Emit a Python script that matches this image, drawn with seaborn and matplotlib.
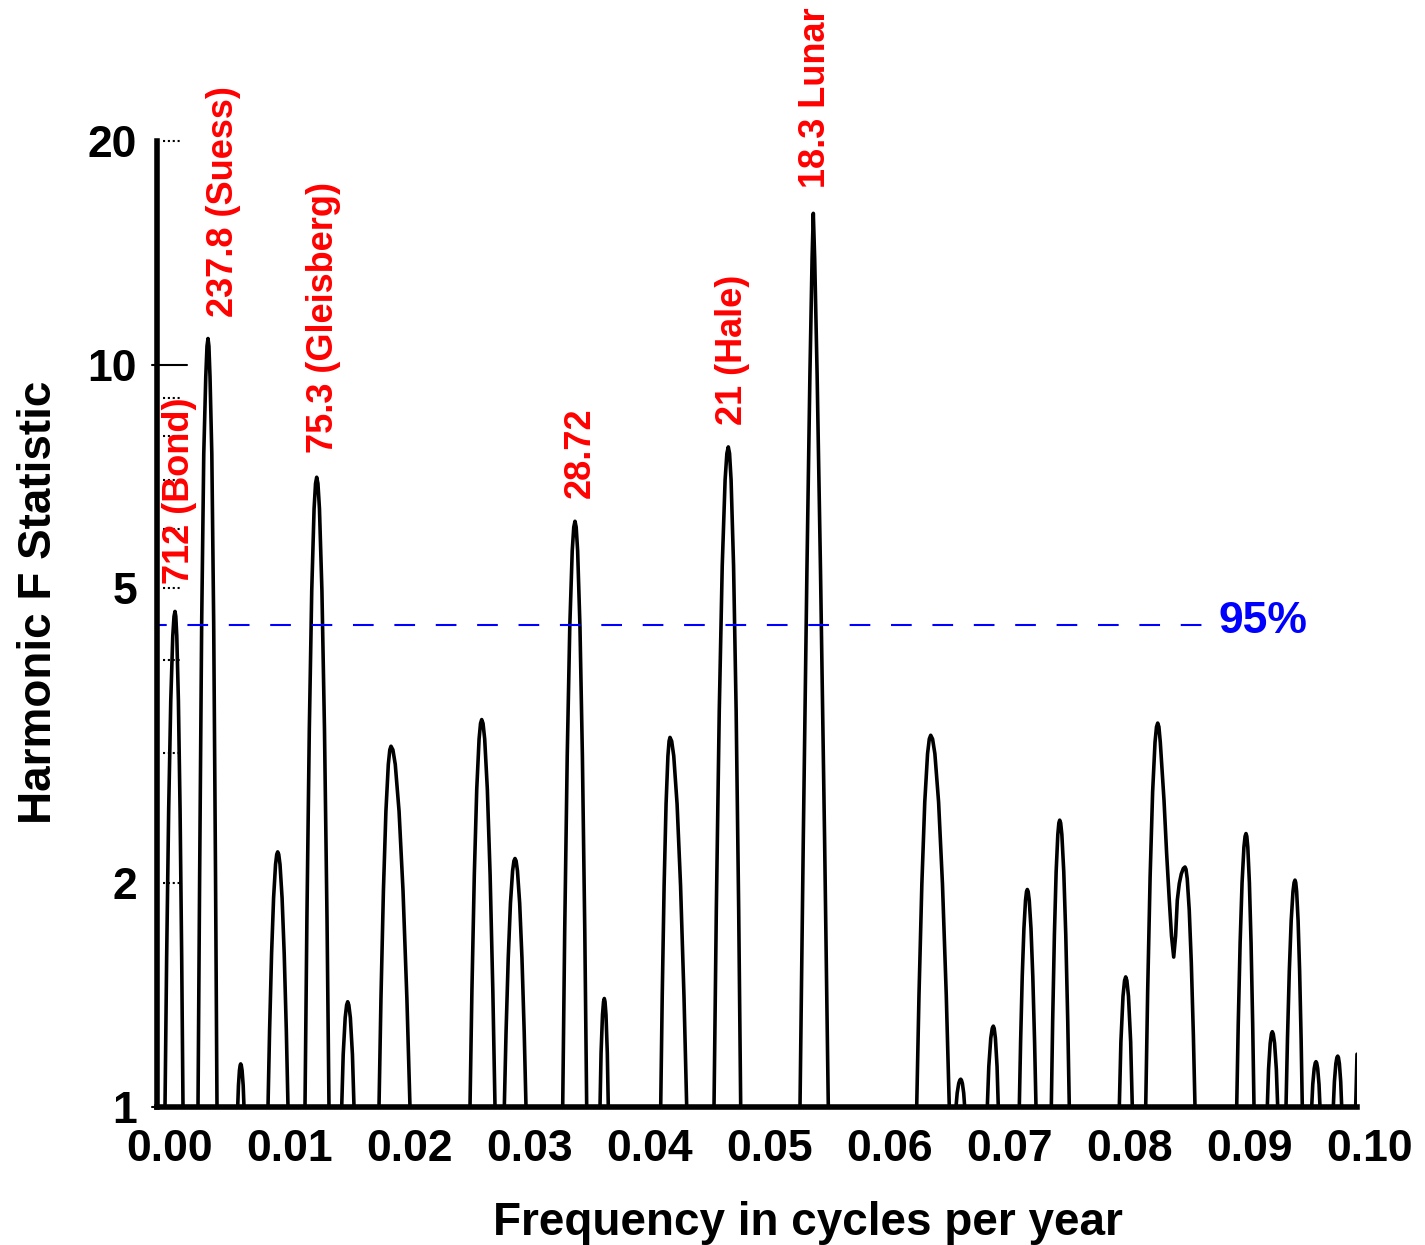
import numpy as np
import pandas as pd
import matplotlib
matplotlib.use('Agg')
import matplotlib.pyplot as plt
import matplotlib.ticker as mticker
from matplotlib.transforms import ScaledTranslation
import seaborn as sns

# traced harmonic F spectrum (one peak per line)
freq = [
    0.0,
    0.000667, 0.000803, 0.000973, 0.001147, 0.001313, 0.001417, 0.0015, 0.001567, 0.001649, 0.001783, 0.001922, 0.002058, 0.002167,
    0.003417, 0.003553, 0.003723, 0.003897, 0.004063, 0.004167, 0.00425, 0.004325, 0.004418, 0.004568, 0.004724, 0.004878, 0.005,
    0.006725, 0.006788, 0.00687, 0.00693, 0.006975, 0.007024, 0.007091, 0.007182, 0.00725,
    0.00925, 0.009382, 0.009548, 0.009716, 0.009878, 0.009978, 0.010058, 0.010144, 0.010251, 0.010423, 0.010601, 0.010777, 0.010917,
    0.012333, 0.012493, 0.012693, 0.012895, 0.01309, 0.013211, 0.013308, 0.013411, 0.013538, 0.013743, 0.013956, 0.014167, 0.014333,
    0.015392, 0.015517, 0.015682, 0.015802, 0.015892, 0.015986, 0.016113, 0.016286, 0.016417,
    0.0185, 0.018663, 0.018868, 0.019076, 0.019276, 0.0194, 0.0195, 0.019658, 0.019855, 0.020172, 0.020501, 0.020825, 0.021083,
    0.026083, 0.026243, 0.026443, 0.026645, 0.02684, 0.026961, 0.027058, 0.027169, 0.027307, 0.027528, 0.027759, 0.027986, 0.028167,
    0.028942, 0.029087, 0.02927, 0.029455, 0.029633, 0.029744, 0.029833, 0.029925, 0.030038, 0.030222, 0.030413, 0.030601, 0.03075,
    0.033808, 0.033975, 0.034186, 0.034398, 0.034603, 0.034731, 0.034833, 0.034931, 0.035052, 0.035247, 0.035449, 0.035649, 0.035808,
    0.036917, 0.037006, 0.037124, 0.037211, 0.037275, 0.037335, 0.037415, 0.037525, 0.037608,
    0.041975, 0.042102, 0.04226, 0.042422, 0.042577, 0.042673, 0.04275, 0.042889, 0.043062, 0.04334, 0.043629, 0.043915, 0.044142,
    0.046417, 0.046611, 0.046855, 0.047103, 0.047342, 0.047489, 0.047608, 0.047712, 0.04784, 0.048047, 0.048262, 0.048473, 0.048642,
    0.053583, 0.053858, 0.05416, 0.05441, 0.054591, 0.054692, 0.054806, 0.055009, 0.055292, 0.055632, 0.055942,
    0.063308, 0.063498, 0.063738, 0.06398, 0.064213, 0.064358, 0.064475, 0.06463, 0.064823, 0.065133, 0.065455, 0.065773, 0.066025,
    0.066583, 0.066681, 0.066811, 0.066904, 0.066975, 0.067035, 0.067115, 0.067225, 0.067308,
    0.069192, 0.069317, 0.069482, 0.069602, 0.069692, 0.069767, 0.069867, 0.070004, 0.070108,
    0.071858, 0.071967, 0.072103, 0.072243, 0.072376, 0.072458, 0.072525, 0.072598, 0.072688, 0.072833, 0.072983, 0.073132, 0.07325,
    0.074525, 0.074639, 0.074783, 0.074928, 0.075068, 0.075155, 0.075225, 0.075305, 0.075404, 0.075564, 0.075731, 0.075895, 0.076025,
    0.080192, 0.080325, 0.080501, 0.080629, 0.080725, 0.080824, 0.080956, 0.081138, 0.081275,
    0.082392, 0.082555, 0.08276, 0.082968, 0.083168, 0.083292, 0.083392, 0.083492, 0.083608, 0.083917, 0.084133, 0.084358,
    0.084542, 0.084725, 0.084883, 0.085025, 0.085192, 0.085358, 0.085525, 0.085667, 0.08575, 0.085853, 0.08602, 0.086193,
    0.086364, 0.0865,
    0.089975, 0.090102, 0.09026, 0.090422, 0.090577, 0.090673, 0.09075, 0.090817, 0.090899, 0.091033, 0.091172, 0.091308, 0.091417,
    0.092525, 0.092629, 0.092767, 0.092867, 0.092942, 0.093023, 0.093131, 0.093279, 0.093392,
    0.094083, 0.094206, 0.094359, 0.094515, 0.094665, 0.094758, 0.094833, 0.094894, 0.09497, 0.095092, 0.095218, 0.095343, 0.095442,
    0.096225, 0.096314, 0.096433, 0.096519, 0.096583, 0.096643, 0.096723, 0.096833, 0.096917,
    0.098025, 0.098117, 0.098238, 0.098326, 0.098392, 0.098452, 0.098532, 0.098642, 0.098725,
    0.09989, 0.1,
]
fstat = [
    1.0,
    1.0, 1.586, 2.515, 3.527, 4.306, 4.579, 4.65, 4.579, 4.306, 3.527, 2.515, 1.586, 1.0,
    1.0, 2.045, 4.487, 7.58, 9.62, 10.59, 10.84, 10.59, 9.62, 7.58, 4.487, 2.045, 1.0,
    1.0, 1.069, 1.12, 1.138, 1.143, 1.138, 1.12, 1.069, 1.0,
    1.0, 1.268, 1.608, 1.913, 2.121, 2.189, 2.206, 2.189, 2.121, 1.913, 1.608, 1.268, 1.0,
    1.0, 1.797, 3.228, 4.961, 6.395, 6.914, 7.05, 6.914, 6.395, 4.961, 3.228, 1.797, 1.0,
    1.0, 1.177, 1.319, 1.372, 1.386, 1.372, 1.319, 1.177, 1.0,
    1.0, 1.399, 1.956, 2.502, 2.894, 3.027, 3.061, 3.027, 2.894, 2.502, 1.956, 1.399, 1.0,
    1.0, 1.434, 2.056, 2.679, 3.131, 3.286, 3.325, 3.286, 3.131, 2.679, 2.056, 1.434, 1.0,
    1.0, 1.26, 1.588, 1.882, 2.08, 2.145, 2.161, 2.145, 2.08, 1.882, 1.588, 1.26, 1.0,
    1.0, 1.724, 2.973, 4.434, 5.616, 6.04, 6.15, 6.04, 5.616, 4.434, 2.973, 1.724, 1.0,
    1.0, 1.183, 1.331, 1.386, 1.40, 1.386, 1.331, 1.183, 1.0,
    1.0, 1.41, 1.989, 2.559, 2.971, 3.11, 3.146, 3.11, 2.971, 2.559, 1.989, 1.41, 1.0,
    1.0, 1.848, 3.416, 5.359, 6.993, 7.59, 7.745, 7.59, 6.993, 5.359, 3.416, 1.848, 1.0,
    1.0, 2.297, 5.275, 9.705, 13.91, 15.98, 13.91, 9.705, 5.275, 2.297, 1.0,
    1.0, 1.413, 1.997, 2.574, 2.991, 3.131, 3.167, 3.131, 2.991, 2.574, 1.997, 1.413, 1.0,
    1.0, 1.044, 1.076, 1.087, 1.09, 1.087, 1.076, 1.044, 1.0,
    1.0, 1.134, 1.238, 1.276, 1.285, 1.276, 1.238, 1.134, 1.0,
    1.0, 1.224, 1.499, 1.739, 1.898, 1.95, 1.963, 1.95, 1.898, 1.739, 1.499, 1.224, 1.0,
    1.0, 1.306, 1.705, 2.074, 2.328, 2.413, 2.434, 2.413, 2.328, 2.074, 1.705, 1.306, 1.0,
    1.0, 1.224, 1.41, 1.48, 1.497, 1.48, 1.41, 1.224, 1.0,
    1.0, 1.43, 2.043, 2.655, 3.099, 3.251, 3.289, 3.251, 3.099, 2.589, 2.2, 1.899,
    1.7, 1.592, 1.7, 1.899, 2.0, 2.06, 2.095, 2.105, 2.09, 2.029, 1.842, 1.563,
    1.25, 1.0,
    1.0, 1.29, 1.663, 2.005, 2.239, 2.315, 2.335, 2.315, 2.239, 2.005, 1.663, 1.29, 1.0,
    1.0, 1.124, 1.219, 1.254, 1.263, 1.254, 1.219, 1.124, 1.0,
    1.0, 1.235, 1.525, 1.781, 1.951, 2.006, 2.021, 2.006, 1.951, 1.781, 1.525, 1.235, 1.0,
    1.0, 1.073, 1.127, 1.146, 1.151, 1.146, 1.127, 1.073, 1.0,
    1.0, 1.082, 1.144, 1.166, 1.171, 1.166, 1.144, 1.082, 1.0,
    1.0, 1.178,
]

# period annotations (years)
peak_labels = ['712 (Bond)', '237.8 (Suess)', '75.3 (Gleisberg)', '28.72', '21 (Hale)', '18.3 Lunar']
label_freq = [0.002667, 0.006333, 0.014667, 0.036083, 0.04875, 0.055667]
label_f = [5.06, 11.6, 7.59, 6.62, 8.30, 17.3]

threshold_95 = 4.455
threshold_end = 0.0871
threshold_text = '95%'
threshold_text_pos = (0.08842, 4.345)

x_ticks = [0.00, 0.01, 0.02, 0.03, 0.04, 0.05, 0.06, 0.07, 0.08, 0.09, 0.10]
x_tick_labels = ['0.00', '0.01', '0.02', '0.03', '0.04', '0.05', '0.06', '0.07', '0.08', '0.09', '0.10']
y_ticks = [1, 2, 5, 10, 20]
y_tick_labels = ['1', '2', '5', '10', '20']
y_dotted = [2, 3, 4, 5, 6, 7, 8, 9, 20]
y_solid = [1, 10]

sns.set_theme(style='white')
plt.rcParams['font.family'] = ['Liberation Sans', 'DejaVu Sans']
plt.rcParams['font.weight'] = 'bold'
plt.rcParams['text.color'] = 'black'
plt.rcParams['lines.scale_dashes'] = False

W, H = 1425, 1245
fig = plt.figure(figsize=(W / 100, H / 100), dpi=100)
ax = fig.add_axes([157 / W, 138 / H, 1200 / W, 966 / H])

df = pd.DataFrame({'freq': freq, 'fstat': fstat})
sns.lineplot(data=df, x='freq', y='fstat', sort=False, estimator=None,
             color='black', lw=2.6, ax=ax)
ax.set_yscale('log')

# 95% significance level
ax.plot([0, threshold_end], [threshold_95, threshold_95], color='blue', lw=1.5,
        linestyle=(7.9, (14.9, 14.9)))
ax.text(threshold_text_pos[0], threshold_text_pos[1], threshold_text, color='blue',
        fontsize=32, fontweight='bold', ha='left', va='baseline')

for lab, fx, fy in zip(peak_labels, label_freq, label_f):
    ax.text(fx, fy, lab, color='red', fontsize=26, fontweight='bold', rotation=90,
            rotation_mode='anchor', ha='left', va='baseline', clip_on=False)

# axis decorations
ax.set_xticks(x_ticks)
ax.set_xticklabels(x_tick_labels)
ax.set_yticks(y_ticks)
ax.set_yticklabels(y_tick_labels)
ax.xaxis.set_minor_locator(mticker.NullLocator())
ax.yaxis.set_minor_locator(mticker.NullLocator())
ax.tick_params(axis='x', direction='in', length=11, width=1.5, pad=16,
               labelsize=32, colors='black')
ax.tick_params(axis='y', length=0, pad=14.4, labelsize=32, colors='black')
for lbl in ax.get_xticklabels():
    lbl.set_transform(lbl.get_transform() + ScaledTranslation(0.13, 0, fig.dpi_scale_trans))

ytr = ax.get_yaxis_transform()
for v in y_dotted:
    ax.plot([6 / 1200, 23 / 1200], [v, v], transform=ytr, color='black', lw=1.5,
            linestyle=(0, (1.5, 2.0)), clip_on=False)
for v in y_solid:
    ax.plot([-5 / 1200, 30 / 1200], [v, v], transform=ytr, color='black', lw=1.5,
            clip_on=False)

for side in ['top', 'right']:
    ax.spines[side].set_visible(False)
for side in ['left', 'bottom']:
    ax.spines[side].set_linewidth(4)
    ax.spines[side].set_color('black')

ax.set_xlabel('')
ax.set_ylabel('')
fig.text(808 / W, 1 - 1235 / H, 'Frequency in cycles per year', fontsize=33,
         fontweight='bold', color='black', ha='center', va='baseline')
fig.text(51 / W, 1 - 602 / H, 'Harmonic F Statistic', fontsize=33, fontweight='bold',
         color='black', rotation=90, rotation_mode='anchor', ha='center', va='baseline')

ax.set_xlim(0, 0.1)
ax.set_ylim(1, 20)

fig.savefig('out.png', dpi=100)
